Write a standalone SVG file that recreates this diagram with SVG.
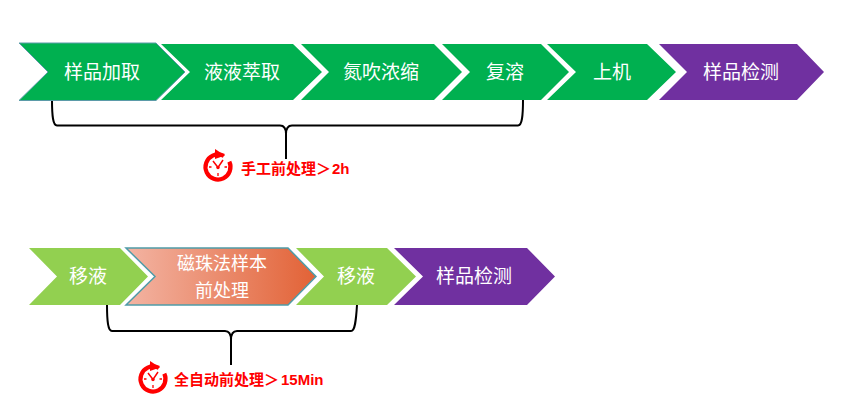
<svg xmlns="http://www.w3.org/2000/svg" width="858" height="418" viewBox="0 0 858 418">
<style>
.g{fill:#00B050}.p{fill:#7030A0}.l{fill:#92D050}
.t{font-family:"Noto Sans CJK SC",sans-serif;font-size:19px;fill:#fff;text-anchor:middle}
.s{font-size:18px}
.r{font-family:"Liberation Sans","Noto Sans CJK SC",sans-serif;font-size:15px;font-weight:700;fill:#f00}
.b{fill:none;stroke:#000;stroke-width:2}
</style>
<defs>
<linearGradient id="o" x1="0" y1="0" x2="1" y2="0"><stop offset="0" stop-color="#F3B4A3"/><stop offset="1" stop-color="#E26236"/></linearGradient>
<g id="clock">
<circle r="12.500" fill="#fff" stroke="#f00" stroke-width="4.200" stroke-dasharray="70 8.540" transform="rotate(-25)"/>
<path d="M-3-18L7-11.500-3-8Z" fill="#f00"/>
<path d="M-5-6L0 0.500 5-7" fill="none" stroke="#f00" stroke-width="1.500"/>
<circle r="1.700" cy="0.500" fill="#f00"/>
<path d="M0 6V9M-9 0H-6.500M6.500 0H9" stroke="#f00" stroke-width="1.300"/>
</g>
</defs>
<g id="connectors">
<path class="b" d="M52 100C52 116 53 125.500 57 125.500H280C284 125.500 286 128 286 134V159M286 134C286 128 288 125.500 292 125.500H518C522 125.500 523 116 523 100"/>
<path class="b" d="M107 305C107 321 108 331 112 331H225C229 331 231 334 231 340V365M231 340C231 334 233 331 237 331H351C355 331 356 321 357 305"/>
</g>
<g id="n1"><path class="g" d="M19 43H156L185 72 156 100.500H19L48 72Z" stroke="#5B9BA8" stroke-width="1"/><text class="t" x="102" y="78.500">样品加取</text></g>
<g id="n2"><path class="g" d="M161 44H293L322 72 293 100H161L190 72Z"/><text class="t" x="242" y="78.500">液液萃取</text></g>
<g id="n3"><path class="g" d="M301 44H434L462 72 434 100H301L329 72Z"/><text class="t" x="381" y="78.500">氮吹浓缩</text></g>
<g id="n4"><path class="g" d="M442 44H541L569 72 541 100H442L470 72Z"/><text class="t" x="505" y="78.500">复溶</text></g>
<g id="n5"><path class="g" d="M547 44H647L676 72 647 100H547L576 72Z"/><text class="t" x="612" y="78.500">上机</text></g>
<g id="n6"><path class="p" d="M659 44H797L824 72 797 100H659L687 72Z"/><text class="t" x="741" y="78.500">样品检测</text></g>
<g id="note1"><use href="#clock" x="218" y="167"/><text class="r" x="241" y="174">手工前处理＞<tspan x="332">2h</tspan></text></g>
<g id="m1"><path class="l" d="M29 248H120L148 276.500 120 305H29L57 276.500Z"/><text class="t" x="88" y="283">移液</text></g>
<g id="m2"><path d="M126 248H288L316 276.500 288 305H126L155 276.500Z" fill="url(#o)" stroke="#4F9CA8" stroke-width="1.500"/><text class="t s" x="222" y="270">磁珠法样本</text><text class="t s" x="222" y="296.500">前处理</text></g>
<g id="m3"><path class="l" d="M296 248H387L416 276.500 387 305H296L324 276.500Z"/><text class="t" x="356" y="283">移液</text></g>
<g id="m4"><path class="p" d="M394 248H527L555 276.500 527 305H394L423 276.500Z"/><text class="t" x="474" y="283">样品检测</text></g>
<g id="note2"><use href="#clock" x="153" y="379"/><text class="r" x="174" y="385">全自动前处理＞<tspan x="281">15Min</tspan></text></g>
</svg>
